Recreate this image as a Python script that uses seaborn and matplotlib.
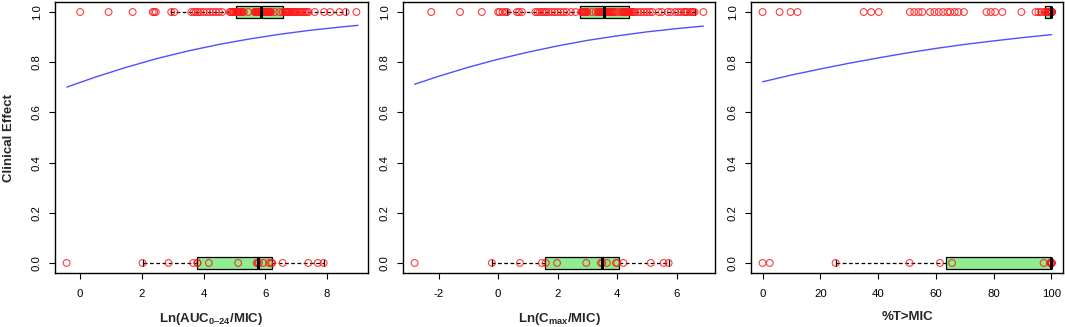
import numpy as np
import pandas as pd
import matplotlib
matplotlib.use("Agg")
import matplotlib.pyplot as plt
import seaborn as sns

# ---------------- data ----------------
# Panel 1: Ln(AUC0-24/MIC)
auc_eff1 = [0.0, 0.92, 1.7, 2.35, 2.4, 2.45, 2.95, 3.05,
            3.6, 3.68, 3.75, 3.82, 3.9, 4.0, 4.1, 4.2, 4.3, 4.4, 4.5, 4.6,
            4.85, 4.88, 4.92, 4.95, 4.98, 5.02,
            5.06, 5.08, 5.1, 5.1, 5.12, 5.14, 5.15, 5.18, 5.2, 5.22, 5.25, 5.3, 5.45,
            5.65, 5.68, 5.7, 5.72, 5.74, 5.75, 5.76, 5.78, 5.8, 5.8, 5.82, 5.84, 5.85,
            5.88, 5.9, 5.9, 5.92, 5.94, 5.95, 5.96, 5.98, 6.0, 6.0, 6.02, 6.04, 6.05,
            6.06, 6.08, 6.1, 6.1, 6.12, 6.13, 6.13, 6.15, 6.15, 6.18, 6.3, 6.45, 6.56,
            6.62, 6.65, 6.68, 6.7, 6.73, 6.76, 6.8, 6.84, 6.88, 6.92, 6.96, 7.0, 7.05,
            7.1, 7.15, 7.2, 7.25, 7.3, 7.35, 7.4,
            7.6, 7.9, 8.1, 8.4, 8.6, 8.95]
auc_eff0 = [-0.44, 2.02, 2.86, 3.66, 3.8, 3.8, 4.17, 5.12, 5.72, 5.75, 5.79, 5.93,
            6.12, 6.19, 6.22, 6.56, 7.39, 7.7, 7.89]
auc_curve_x = [-0.43, 0.5, 1.5, 2.5, 3.5, 4.5, 5.5, 6.5, 7.5, 8.5, 9.0]
auc_curve_y = [0.701, 0.741, 0.780, 0.815, 0.845, 0.871, 0.893, 0.912, 0.928, 0.941, 0.947]

# Panel 2: Ln(Cmax/MIC)
cmax_eff1 = [-2.25, -1.28, -0.55, 0.0, 0.05, 0.15, 0.25, 0.3,
             0.63, 0.7, 0.8,
             1.25, 1.32, 1.4, 1.48, 1.55, 1.62, 1.7, 1.8, 1.9, 2.0, 2.1, 2.2, 2.3, 2.45, 2.6,
             2.8, 2.82, 2.84, 2.86, 2.88, 2.9, 2.92, 2.95, 2.98, 3.0, 3.15, 3.28, 3.36,
             3.38, 3.4, 3.42, 3.44, 3.46, 3.48, 3.5, 3.5, 3.52, 3.53, 3.54, 3.55, 3.56,
             3.58, 3.6, 3.62, 3.64, 3.66, 3.68, 3.7, 3.72, 3.75, 3.78, 3.8, 3.84, 3.88,
             3.92, 4.02, 4.12, 4.18, 4.2, 4.22, 4.25, 4.28, 4.3, 4.32, 4.34, 4.36, 4.38,
             4.42, 4.45, 4.5, 4.55, 4.6, 4.7, 4.8, 4.9, 5.0, 5.1, 5.18, 5.4, 5.5, 5.7,
             5.8, 5.95, 6.05, 6.15, 6.25, 6.3, 6.35, 6.45, 6.5, 6.55, 6.6, 6.9]
cmax_eff0 = [-2.81, -0.21, 0.73, 1.47, 1.6, 1.98, 2.96, 3.45, 3.5, 3.65, 3.96, 4.0,
             4.21, 5.13, 5.56, 5.73]
cmax_curve_x = [-2.81, -2.0, -1.0, 0.0, 1.0, 2.0, 3.0, 4.0, 5.0, 6.0, 6.9]
cmax_curve_y = [0.712, 0.744, 0.780, 0.812, 0.840, 0.865, 0.887, 0.905, 0.921, 0.934, 0.944]

# Panel 3: %T>MIC
t_eff1 = [0, 5.9, 9.7, 12.1, 35, 37.6, 40.2, 51, 52.5, 54, 55.3, 58, 59.5, 61, 62.5,
          64, 65, 66.5, 67.8, 69.7, 77.5, 79, 80.5, 83, 89.6, 94.5, 95.5, 96.5, 97.5,
          98, 98.5, 99, 99.2, 99.5, 99.7,
          100, 100, 100, 100, 100, 100, 100, 100, 100, 100, 100, 100, 100, 100, 100, 100, 100, 100, 100, 100,
          100, 100, 100, 100, 100, 100, 100, 100, 100, 100, 100, 100, 100, 100, 100, 100, 100, 100, 100, 100,
          100, 100, 100, 100, 100, 100, 100, 100, 100, 100, 100, 100, 100, 100, 100, 100, 100, 100, 100, 100,
          100, 100, 100, 100, 100, 100, 100, 100, 100, 100, 100, 100, 100, 100, 100, 100, 100, 100, 100, 100,
          100]
t_eff0 = [0, 2.5, 25.3, 50.9, 61.4, 65.6, 97.3, 99.5,
          100, 100, 100, 100, 100, 100, 100, 100, 100, 100, 100]
t_curve_x = [0, 10, 20, 30, 40, 50, 60, 70, 80, 90, 100]
t_curve_y = [0.722, 0.749, 0.773, 0.796, 0.817, 0.837, 0.855, 0.871, 0.885, 0.898, 0.910]

x_labels = [r"Ln(AUC$_{\mathrm{0–24}}$/MIC)", r"Ln(C$_{\mathrm{max}}$/MIC)", "%T>MIC"]
x_ticks = [[0, 2, 4, 6, 8], [-2, 0, 2, 4, 6], [0, 20, 40, 60, 80, 100]]
y_ticks = [0.0, 0.2, 0.4, 0.6, 0.8, 1.0]
y_label = "Clinical Effect"

# ---------------- style ----------------
sns.set_style("ticks")
plt.rcParams["font.family"] = ["Liberation Sans", "DejaVu Sans"]
plt.rcParams["mathtext.fontset"] = "custom"
plt.rcParams["mathtext.rm"] = "Liberation Sans:bold"
plt.rcParams["mathtext.bf"] = "Liberation Sans:bold"
plt.rcParams["axes.unicode_minus"] = False

fig = plt.figure(figsize=(10.65, 3.27), dpi=100)
W, H = 1065, 327
axes_px = [(55, 368), (403, 715), (751, 1063)]
top_px, bot_px = 2, 273

panels = [
    (auc_eff1, auc_eff0, auc_curve_x, auc_curve_y),
    (cmax_eff1, cmax_eff0, cmax_curve_x, cmax_curve_y),
    (t_eff1, t_eff0, t_curve_x, t_curve_y),
]

for i, (e1, e0, cx, cy) in enumerate(panels):
    x0, x1 = axes_px[i]
    ax = fig.add_axes([x0 / W, 1 - bot_px / H, (x1 - x0) / W, (bot_px - top_px) / H])
    df = pd.DataFrame({
        "value": list(e1) + list(e0),
        "effect": [1] * len(e1) + [0] * len(e0),
    })
    sns.boxplot(data=df, x="value", y="effect", orient="h", native_scale=True,
                width=0.05, color="#90EE90", saturation=1, linecolor="black",
                linewidth=0.9, showfliers=False,
                whiskerprops=dict(linestyle=(0, (3, 2)), linewidth=0.9),
                medianprops=dict(linewidth=2.2, color="black", zorder=5),
                ax=ax)
    sns.scatterplot(data=df, x="value", y="effect", marker="o", s=24,
                    color="#FF1A1A", facecolors="none", edgecolor="#FF1A1A",
                    linewidth=0.8, alpha=0.85, zorder=4, ax=ax, legend=False)
    sns.lineplot(x=cx, y=cy, color="#4F4FFF", linewidth=1.0, ax=ax)

    allv = np.array(df["value"], dtype=float)
    lo, hi = allv.min(), allv.max()
    rng = hi - lo
    ax.set_xlim(lo - 0.04 * rng, hi + 0.04 * rng)
    ax.set_ylim(-0.04, 1.04)
    ax.set_xticks(x_ticks[i])
    ax.set_xticklabels([str(t) for t in x_ticks[i]])
    ax.set_yticks(y_ticks)
    ax.set_yticklabels([f"{t:.1f}" for t in y_ticks], rotation=90, va="center")
    ax.tick_params(axis="both", labelsize=8.2, length=4.5, width=0.8,
                   direction="out", color="black", labelcolor="black")
    ax.tick_params(axis="x", pad=7)
    ax.tick_params(axis="y", pad=5)
    for sp in ax.spines.values():
        sp.set_visible(True)
        sp.set_color("black")
        sp.set_linewidth(1.0)
    ax.set_xlabel(x_labels[i], fontsize=9.5, fontweight="bold", labelpad=9)
    if i == 0:
        ax.set_ylabel(y_label, fontsize=9.5, fontweight="bold", labelpad=12)
    else:
        ax.set_ylabel("")

fig.savefig("out.png", dpi=100)
